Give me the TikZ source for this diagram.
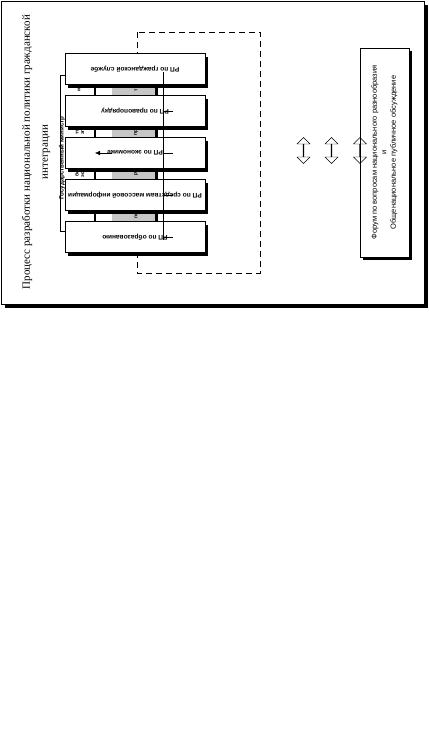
\documentclass[tikz,border=0pt]{standalone}
\usepackage{fontspec}
\setmainfont{Liberation Serif}
\setsansfont{Liberation Sans}
\usetikzlibrary{positioning, calc, shadows, shapes.arrows, arrows.meta}
\pgfdeclarelayer{framelayer}
\pgfdeclarelayer{striplayer}
\pgfsetlayers{framelayer,striplayer,main}
\tikzset{
  blackshadow/.style={drop shadow={shadow xshift=3pt, shadow yshift=-3pt, fill=black, opacity=1}},
  rpbox/.style={draw, fill=white, blackshadow, minimum width=140pt, minimum height=31pt, inner sep=0pt},
  rptext/.style={rotate=180, font=\sffamily\bfseries\fontsize{6.6}{7}\selectfont, inner sep=0pt},
  gaptext/.style={rotate=90, font=\sffamily\bfseries\fontsize{5}{5.5}\selectfont, inner sep=0pt, align=center},
  dblarrow/.style={draw, double arrow, rotate=90, minimum height=26pt, minimum width=13pt, double arrow head extend=3pt, inner sep=0pt},
}

\begin{document}
\begin{tikzpicture}[x=1pt, y=-1pt, line width=0.9pt]
    \useasboundingbox (0,0) rectangle (429,732);

    % Frame
    \begin{pgfonlayer}{framelayer}
        \node[draw, fill=white, drop shadow={shadow xshift=4pt, shadow yshift=-4pt, fill=black, opacity=1}, minimum width=423pt, minimum height=303pt, inner sep=0pt] (frame) at (212.5,152.5) {};
    \end{pgfonlayer}

    % Title
    \node[rotate=90, align=center, font=\fontsize{11}{18}\selectfont] (title) at (36,152) {Процесс разработки национальной политики гражданской\\интеграции};

    % Working groups
    \foreach \i/\txt in {1/РП по гражданской службе, 2/РП по правопорядку, 3/РП по экономике, 4/РП по средствам массовой информации, 5/РП по образованию} {
        \node[rpbox] (rp\i) at (135, 27+42*\i) {};
        \node[rptext] (lbl\i) at (rp\i) {\txt};
    }

    % Strips behind the groups
    \begin{pgfonlayer}{striplayer}
        \draw[dash pattern=on 6pt off 4pt] (137,32) rectangle (260,273);
        \fill[gray!45] ($(rp1.south west)+(47,0)$) rectangle ($(rp5.north west)+(90,0)$);
        \fill ($(rp1.south west)+(29,0)$) rectangle ($(rp5.north west)+(31.5,0)$);
        \fill ($(rp1.south west)+(90,0)$) rectangle ($(rp5.north west)+(93,0)$);
        \foreach \n/\x/\y/\txt in {a/79/90/м, b/80/132/тт\\эп, c/80/174/бе\\эф, d/136/90/т, e/136/132/пр, f/136/174/р, g/136/216/пе}
            \node[gaptext] (gap\n) at (\x,\y) {\txt};
    \end{pgfonlayer}

    % Minister bracket
    \draw ([yshift=-6pt]rp1.west) -- ++(-5,0) |- ([yshift=6pt]rp5.west);
    \node[rotate=90, font=\sffamily\bfseries\fontsize{6.2}{7}\selectfont, inner sep=0pt] (minister) at (62,158) {Государственный министр};

    % Coordination line
    \coordinate (linetop) at ($(rp1.center)+(28,3)$);
    \coordinate (linebot) at ($(rp5.center)+(28,3)$);
    \draw[line width=0.7pt] (linetop) -- (linebot);
    \foreach \i in {2,...,5}
        \draw[line width=0.7pt] ($(rp\i.center)+(28,0)$) -- ++(10,0);

    % Arrow in economy group
    \coordinate (arrowstart) at ($(rp3.center)+(-23,0)$);
    \coordinate (arrowend) at ($(rp3.center)+(-40,0)$);
    \draw[-{Latex[length=5pt,width=4.5pt]}] (arrowstart) -- (arrowend);

    % Forum box
    \node[draw, fill=white, blackshadow, minimum width=49pt, minimum height=209pt, inner sep=0pt] (forum) at (384.5,152.5) {};
    \node[rotate=90, align=center, font=\sffamily\fontsize{7.5}{9.5}\selectfont, inner sep=0pt] (forumtext) at (forum) {Форум по вопросам национального разнообразия\\и\\Общенациональное публичное обсуждение};

    % Double arrows
    \foreach \n/\x in {1/303.5, 2/331.5, 3/360}
        \node[dblarrow] (dbl\n) at (\x,150.5) {};
\end{tikzpicture}
\end{document}
